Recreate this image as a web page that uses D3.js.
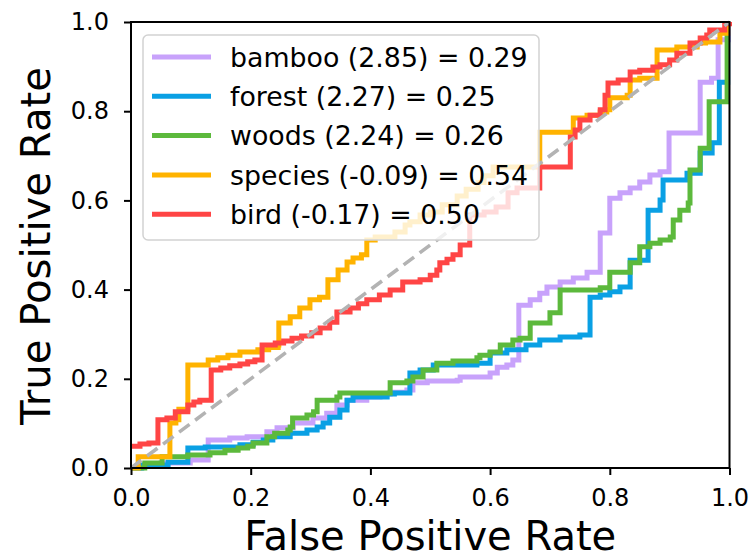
<!DOCTYPE html>
<meta charset="utf-8">
<html>
  <head>
    <style>
      body { margin: 0; background: #fff; }
      text { font-family: "DejaVu Sans", sans-serif; fill: #000; }
      .axis path, .axis line { stroke: #000; stroke-width: 2px; }
      .axis text { font-size: 24px; }
      .roc { fill: none; stroke-width: 5px; stroke-linejoin: miter; }
    </style>
    <script src="https://d3js.org/d3.v7.min.js"></script>
  </head>
  <body>
<div id="my_dataviz"></div>

<script type="text/javascript">
// ROC step points: [false positive rate, true positive rate]
var names = ["bamboo", "forest", "woods", "species", "bird"];
var labels = ["bamboo (2.85) = 0.29", "forest (2.27) = 0.25", "woods (2.24) = 0.26",
              "species (-0.09) = 0.54", "bird (-0.17) = 0.50"];
var colors = ["#c8a2fb", "#0aa0e4", "#5cb93c", "#ffb300", "#ff4545"];

var bamboo = [[0,0],[0.015,0.004],[0.05,0.011],[0.099,0.018],[0.129,0.063],[0.165,0.067],[0.194,0.070],
  [0.227,0.081],[0.244,0.090],[0.271,0.101],[0.304,0.112],[0.327,0.123],[0.344,0.141],[0.361,0.152],
  [0.394,0.159],[0.416,0.166],[0.433,0.170],[0.461,0.175],[0.471,0.191],[0.495,0.195],[0.545,0.197],
  [0.550,0.204],[0.600,0.213],[0.612,0.226],[0.628,0.231],[0.638,0.242],[0.648,0.365],[0.667,0.377],
  [0.683,0.392],[0.695,0.406],[0.717,0.417],[0.739,0.426],[0.762,0.439],[0.784,0.451],[0.784,0.527],
  [0.800,0.605],[0.817,0.617],[0.834,0.628],[0.850,0.641],[0.867,0.657],[0.884,0.664],[0.899,0.751],
  [0.951,0.865],[0.970,0.874],[0.981,0.960],[0.998,1.0]];

var forest = [[0,0],[0.018,0.007],[0.062,0.013],[0.095,0.045],[0.124,0.047],[0.182,0.052],[0.204,0.058],
  [0.221,0.063],[0.237,0.070],[0.266,0.078],[0.294,0.085],[0.311,0.092],[0.321,0.101],[0.332,0.114],
  [0.349,0.130],[0.361,0.152],[0.371,0.159],[0.428,0.166],[0.440,0.168],[0.466,0.213],[0.483,0.220],
  [0.505,0.231],[0.578,0.235],[0.600,0.258],[0.628,0.265],[0.660,0.276],[0.683,0.287],[0.717,0.294],
  [0.750,0.298],[0.767,0.383],[0.784,0.388],[0.800,0.395],[0.817,0.406],[0.834,0.466],[0.864,0.578],
  [0.884,0.601],[0.889,0.646],[0.929,0.661],[0.951,0.706],[0.971,0.729],[0.983,0.865],[0.997,1.0]];

var woods = [[0,0],[0.023,0.011],[0.052,0.025],[0.095,0.029],[0.132,0.034],[0.157,0.040],[0.179,0.045],
  [0.195,0.049],[0.204,0.056],[0.227,0.070],[0.240,0.078],[0.262,0.085],[0.266,0.092],[0.270,0.112],
  [0.294,0.119],[0.305,0.126],[0.311,0.152],[0.344,0.159],[0.349,0.168],[0.433,0.191],[0.461,0.195],
  [0.471,0.204],[0.488,0.220],[0.511,0.235],[0.538,0.240],[0.578,0.247],[0.583,0.253],[0.600,0.260],
  [0.617,0.276],[0.638,0.287],[0.650,0.291],[0.667,0.325],[0.700,0.348],[0.717,0.399],[0.784,0.404],
  [0.800,0.439],[0.834,0.460],[0.850,0.496],[0.867,0.504],[0.884,0.511],[0.901,0.518],[0.906,0.556],
  [0.917,0.578],[0.931,0.594],[0.934,0.668],[0.951,0.717],[0.966,0.821],[0.996,1.0]];

var species = [[0,0],[0.012,0.025],[0.065,0.101],[0.075,0.108],[0.080,0.132],[0.095,0.231],[0.129,0.242],
  [0.145,0.247],[0.162,0.253],[0.182,0.260],[0.212,0.265],[0.230,0.270],[0.246,0.276],[0.247,0.325],
  [0.266,0.339],[0.282,0.359],[0.299,0.377],[0.315,0.383],[0.329,0.422],[0.346,0.444],[0.361,0.462],
  [0.371,0.471],[0.385,0.478],[0.394,0.511],[0.408,0.518],[0.441,0.529],[0.458,0.545],[0.466,0.552],
  [0.483,0.567],[0.500,0.574],[0.520,0.590],[0.545,0.610],[0.560,0.625],[0.580,0.640],[0.590,0.655],
  [0.605,0.675],[0.683,0.753],[0.739,0.785],[0.762,0.791],[0.784,0.798],[0.795,0.803],[0.800,0.830],
  [0.829,0.836],[0.834,0.870],[0.850,0.874],[0.879,0.937],[0.912,0.944],[0.946,0.953],[0.960,0.955],
  [0.984,0.975],[0.997,1.0]];

var bird = [[0,0.049],[0.015,0.054],[0.030,0.056],[0.045,0.108],[0.060,0.112],[0.074,0.126],[0.095,0.141],
  [0.105,0.148],[0.115,0.152],[0.134,0.220],[0.150,0.224],[0.165,0.229],[0.182,0.233],[0.195,0.238],
  [0.207,0.242],[0.219,0.276],[0.241,0.280],[0.255,0.285],[0.269,0.291],[0.285,0.296],[0.302,0.303],
  [0.316,0.314],[0.332,0.327],[0.344,0.350],[0.366,0.359],[0.380,0.368],[0.394,0.377],[0.415,0.388],
  [0.433,0.399],[0.454,0.417],[0.483,0.422],[0.500,0.432],[0.511,0.444],[0.516,0.460],[0.528,0.468],
  [0.538,0.478],[0.550,0.500],[0.566,0.567],[0.590,0.574],[0.610,0.585],[0.630,0.617],[0.645,0.628],
  [0.683,0.675],[0.734,0.742],[0.742,0.758],[0.750,0.780],[0.767,0.791],[0.784,0.803],[0.792,0.836],
  [0.797,0.863],[0.814,0.870],[0.834,0.888],[0.850,0.892],[0.872,0.899],[0.884,0.904],[0.900,0.915],
  [0.912,0.930],[0.934,0.953],[0.951,0.964],[0.962,0.971],[0.967,0.982],[0.992,0.996],[1,1]];

var series = [bamboo, forest, woods, species, bird];
var tickValues = [0, 0.2, 0.4, 0.6, 0.8, 1.0];

// layout
var W = 753, H = 557;
var margin = {top: 22, right: 23.5, bottom: 89, left: 131},
  width = W - margin.left - margin.right,
  height = H - margin.top - margin.bottom;

var svg = d3.select("#my_dataviz")
  .append("svg")
  .attr("width", W)
  .attr("height", H)
  .append("g")
  .attr("transform", "translate(" + margin.left + "," + margin.top + ")");

var x = d3.scaleLinear().domain([0, 1]).range([0, width]);
var y = d3.scaleLinear().domain([0, 1]).range([height, 0]);

// curves
var line = d3.line()
  .x(function(d) { return x(d[0]); })
  .y(function(d) { return y(d[1]); })
  .curve(d3.curveStepAfter);

svg.append("defs").append("clipPath").attr("id", "clip")
  .append("rect").attr("x", -3).attr("y", -3).attr("width", width + 6).attr("height", height + 6);

var plot = svg.append("g").attr("clip-path", "url(#clip)");

series.forEach(function(s, i) {
  plot.append("path")
    .datum(s)
    .attr("class", "roc")
    .attr("stroke", colors[i])
    .attr("d", line);
});

// chance diagonal
plot.append("line")
  .attr("x1", x(0)).attr("y1", y(0))
  .attr("x2", x(1)).attr("y2", y(1))
  .attr("stroke", "#b3b3b3")
  .attr("stroke-width", 3.6)
  .attr("stroke-dasharray", "13,7");

// axes
svg.append("g")
  .attr("class", "axis")
  .attr("transform", "translate(0," + height + ")")
  .call(d3.axisBottom(x).tickValues(tickValues).tickSize(7).tickPadding(14).tickFormat(d3.format(".1f")))
  .call(function(g) { g.select(".domain").remove(); });

svg.append("g")
  .attr("class", "axis")
  .call(d3.axisLeft(y).tickValues(tickValues).tickSize(7).tickPadding(15).tickFormat(d3.format(".1f")))
  .call(function(g) { g.select(".domain").remove(); });

svg.append("rect")
  .attr("width", width)
  .attr("height", height)
  .attr("fill", "none")
  .attr("stroke", "#000")
  .attr("stroke-width", 2);

// legend
var legend = svg.append("g").attr("transform", "translate(12,13)");
legend.append("rect")
  .attr("width", 396)
  .attr("height", 205)
  .attr("rx", 5)
  .attr("fill", "#fff")
  .attr("fill-opacity", 0.8)
  .attr("stroke", "#d2d2d2")
  .attr("stroke-width", 1.5);

var rows = legend.selectAll(".row")
  .data(labels)
  .enter().append("g")
  .attr("transform", function(d, i) { return "translate(0," + (22 + i * 39.3) + ")"; });

rows.append("line")
  .attr("x1", 9).attr("x2", 68)
  .attr("stroke", function(d, i) { return colors[i]; })
  .attr("stroke-width", 5);

rows.append("text")
  .attr("x", 87)
  .attr("dy", "0.36em")
  .style("font-size", "26.8px")
  .text(function(d) { return d; });

// axis titles
svg.append("text")
  .attr("x", width / 2)
  .attr("y", height + 82)
  .attr("text-anchor", "middle")
  .attr("textLength", 372)
  .attr("lengthAdjust", "spacingAndGlyphs")
  .style("font-size", "41px")
  .text("False Positive Rate");

svg.append("text")
  .attr("transform", "translate(" + (50 - margin.left) + "," + (height / 2 + 1) + ") rotate(-90)")
  .attr("text-anchor", "middle")
  .attr("textLength", 358)
  .attr("lengthAdjust", "spacingAndGlyphs")
  .style("font-size", "41px")
  .text("True Positive Rate");
</script>
</body>
</html>
